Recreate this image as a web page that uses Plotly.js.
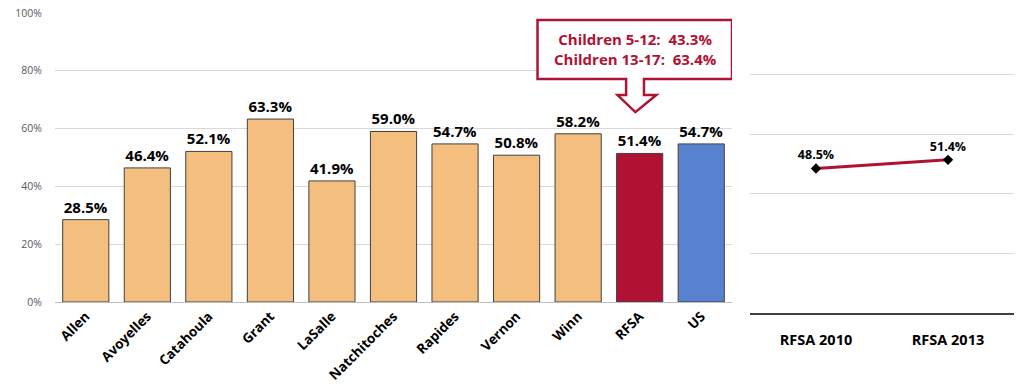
<!DOCTYPE html>
<html>
<head>
<meta charset="utf-8">
<script src="https://cdn.plot.ly/plotly-3.0.1.min.js"></script>
<style>html,body{margin:0;padding:0;background:#fff;}#chart{width:1016px;height:391px;}</style>
</head>
<body>
<div id="chart"></div>
<script>
var parishes = ['Allen','Avoyelles','Catahoula','Grant','LaSalle','Natchitoches','Rapides','Vernon','Winn','RFSA','US'];
var parishValues = [28.5, 46.4, 52.1, 63.3, 41.9, 59.0, 54.7, 50.8, 58.2, 51.4, 54.7];
var trendYears = ['RFSA 2010', 'RFSA 2013'];
var trendValues = [48.5, 51.4];
var calloutLines = ['Children 5-12:  43.3%', 'Children 13-17:  63.4%'];
var yTickVals = [0, 20, 40, 60, 80, 100];
var yTickText = ['0%', '20%', '40%', '60%', '80%', '100%'];

var ORANGE = '#F4BE7E', RED = '#B01233', BLUE = '#5882D0';
var barColors = parishes.map(function (p) { return p === 'RFSA' ? RED : (p === 'US' ? BLUE : ORANGE); });
var FONT = 'Open Sans, Noto Sans, sans-serif';

var traces = [
  {
    type: 'bar', x: parishes, y: parishValues, xaxis: 'x', yaxis: 'y',
    marker: { color: barColors, line: { color: '#404040', width: 1 } },
    texttemplate: '%{y:.1f}%', textposition: 'outside', cliponaxis: false,
    textfont: { family: FONT, size: 15, color: '#000', weight: 'bold' },
    hoverinfo: 'skip'
  },
  {
    type: 'scatter', mode: 'lines+markers+text', x: trendYears, y: trendValues, xaxis: 'x2', yaxis: 'y2',
    line: { color: RED, width: 3 },
    marker: { symbol: 'diamond', color: '#000', size: 8 },
    texttemplate: '%{y:.1f}%', textposition: 'top center',
    textfont: { family: FONT, size: 12.5, color: '#000', weight: 'bold' },
    hoverinfo: 'skip', cliponaxis: false
  }
];

var layout = {
  width: 1016, height: 391,
  margin: { l: 0, r: 0, t: 0, b: 0 },
  paper_bgcolor: '#fff', plot_bgcolor: 'rgba(0,0,0,0)',
  showlegend: false,
  bargap: 0.25,
  font: { family: FONT },
  xaxis: {
    domain: [55 / 1016, 732 / 1016], anchor: 'y', type: 'category',
    range: [-0.5, 10.5],
    tickangle: -45, ticks: '', automargin: false,
    tickfont: { family: FONT, size: 13.5, color: '#000', weight: 'bold' },
    showline: true, linecolor: '#BFBFBF', linewidth: 1.2,
    showgrid: false, zeroline: false
  },
  yaxis: {
    domain: [89 / 391, 378 / 391], anchor: 'x',
    range: [0, 100], tickvals: yTickVals, ticktext: yTickText,
    tickfont: { family: FONT, size: 10.5, color: '#595959' },
    ticks: 'outside', ticklen: 10, tickcolor: 'rgba(0,0,0,0)', automargin: false,
    showgrid: true, gridcolor: '#D9D9D9', gridwidth: 1, zeroline: false
  },
  xaxis2: {
    domain: [750 / 1016, 1014 / 1016], anchor: 'y2', type: 'category',
    range: [-0.5, 1.5], ticks: 'outside', ticklen: 13, tickcolor: 'rgba(0,0,0,0)',
    tickfont: { family: FONT, size: 14.5, color: '#000', weight: 'bold' },
    showline: true, linecolor: '#404040', linewidth: 1.5,
    showgrid: false, zeroline: false, automargin: false
  },
  yaxis2: {
    domain: [78 / 391, 376 / 391], anchor: 'x2',
    range: [0, 100], tickvals: yTickVals, showticklabels: false,
    showgrid: true, gridcolor: '#D9D9D9', gridwidth: 1, zeroline: false, automargin: false
  },
  shapes: [
    {
      type: 'path', xref: 'x', yref: 'y', layer: 'above',
      path: 'M 7.34 97.6 L 10.5 97.6 L 10.5 77.2 L 9.07 77.2 L 9.07 71.6 L 9.27 71.6 L 8.93 65.7 L 8.64 71.6 L 8.78 71.6 L 8.78 77.2 L 7.34 77.2 Z',
      fillcolor: '#fff', line: { color: RED, width: 2.5 }
    }
  ],
  annotations: [
    {
      xref: 'x', yref: 'y', x: 8.93, y: 87.6, showarrow: false,
      text: calloutLines.join('<br>'),
      font: { family: FONT, size: 15, color: RED, weight: 'bold' },
      align: 'center'
    }
  ]
};

Plotly.newPlot('chart', traces, layout, { staticPlot: true, displayModeBar: false });
</script>
</body>
</html>
